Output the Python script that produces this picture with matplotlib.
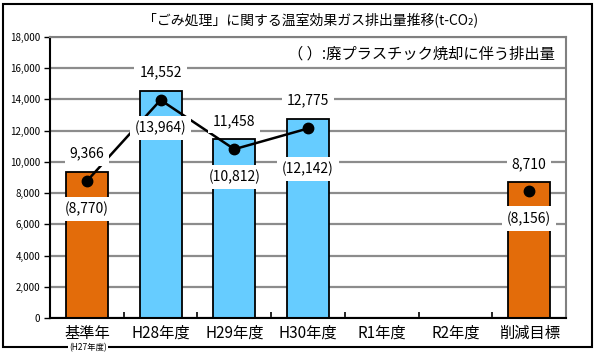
import numpy as np
import matplotlib
matplotlib.use('Agg')
import matplotlib.pyplot as plt
from matplotlib.patches import Rectangle

plt.rcParams['font.family'] = ['Noto Sans CJK JP', 'DejaVu Sans']

# data
categories = ['基準年', 'H28年度', 'H29年度', 'H30年度', 'R1年度', 'R2年度', '削減目標']
totals = [9366, 14552, 11458, 12775, np.nan, np.nan, 8710]
plastic = [8770, 13964, 10812, 12142, np.nan, np.nan, 8156]
yticks = [0, 2000, 4000, 6000, 8000, 10000, 12000, 14000, 16000, 18000]
title = '「ごみ処理」に関する温室効果ガス排出量推移(t-CO₂)'
note = '（ ）:廃プラスチック焼却に伴う排出量'

orange = '#E36C0A'
blue = '#66CCFF'
bar_colors = [orange, blue, blue, blue, blue, blue, orange]

fig = plt.figure(figsize=(6, 3.52), dpi=100)
ax = fig.add_axes([50 / 600, 1 - 318 / 352, 516 / 600, 281 / 352])

x = np.arange(len(categories))
ax.bar(x, totals, width=0.57, color=bar_colors, edgecolor='black', linewidth=1.3, zorder=2)
ax.plot(x, plastic, color='black', lw=1.8, marker='o', ms=7.5, zorder=3)

ax.set_xlim(-0.5, len(categories) - 0.5)
ax.set_ylim(0, 18000)
ax.set_yticks(yticks)
ax.set_yticklabels([f'{v:,}' for v in yticks], fontsize=7)
ax.yaxis.grid(True, color='#8c8c8c', lw=1.6, zorder=0)
ax.set_axisbelow(True)

ax.set_xticks(x)
ax.set_xticklabels(categories, fontsize=11)
ax.tick_params(axis='x', length=0, pad=5)
ax.set_xticks(np.arange(0.5, len(categories) - 1), minor=True)
ax.tick_params(axis='x', which='minor', direction='in', length=4, width=1.2)
ax.tick_params(axis='y', direction='out', length=4, width=1, pad=3)

for side in ['left', 'bottom']:
    ax.spines[side].set_linewidth(1.5)
for side in ['top', 'right']:
    ax.spines[side].set_color('#808080')
    ax.spines[side].set_linewidth(1.5)

box = dict(boxstyle='square,pad=0.35', fc='white', ec='none')
paren_off = [-20, -20, -20, -29, -20, -20, -20]
for i in range(len(categories)):
    if np.isnan(totals[i]):
        continue
    ax.annotate(f'{totals[i]:,}', (x[i], totals[i]), xytext=(0, 13), textcoords='offset points',
                ha='center', va='center', fontsize=10, bbox=box, zorder=5)
    ax.annotate(f'({plastic[i]:,})', (x[i], plastic[i]), xytext=(0, paren_off[i]), textcoords='offset points',
                ha='center', va='center', fontsize=10, bbox=box, zorder=5)

ax.text(0.979, 0.94, note, transform=ax.transAxes, ha='right', va='center', fontsize=11)
fig.text(311 / 600, 1 - 20 / 352, title, ha='center', va='center', fontsize=10)
fig.text(88 / 600, 1 - 348 / 352, '(H27年度)', ha='center', va='center', fontsize=6,
         bbox=dict(boxstyle='square,pad=0.1', fc='white', ec='none'), zorder=5)

fig.patches.append(Rectangle((3 / 600, 1 - 347 / 352), 589 / 600, 343 / 352, fill=False,
                             ec='black', lw=1.5, transform=fig.transFigure, zorder=1))

fig.savefig('out.png', dpi=100)
